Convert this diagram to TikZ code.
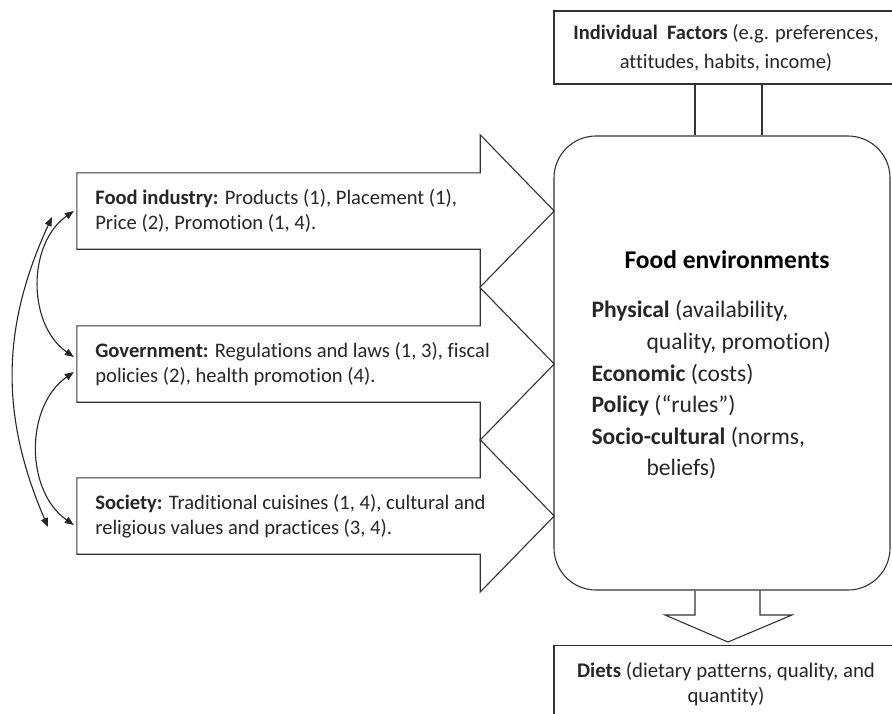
\documentclass[tikz,border=0pt]{standalone}
\usepackage{fontspec}
\setmainfont{Carlito}[Ligatures=NoCommon]
\usetikzlibrary{arrows.meta,calc}

\begin{document}
\begin{tikzpicture}[x=1pt,y=1pt,>={Triangle[length=9pt,width=7pt]},
    outline/.style={draw=black!80,line width=1.1pt},
    shaft/.style={minimum width=403,minimum height=76,inner sep=0},
    sidetext/.style={anchor=west,align=left,text=black!85,font=\fontsize{20.6}{25}\selectfont},
    boxtext/.style={align=center,text=black!85,font=\fontsize{20.6}{27}\selectfont},
    link/.style={<->,draw=black!85,line width=1.1pt}]
  \useasboundingbox (0,0) rectangle (892,-713);
  \clip (0,0) rectangle (892,-713);

  % right column
  \node[outline,minimum width=344,minimum height=73,inner sep=0] (indiv) at (726,-47.5) {};
  \node[boxtext,font=\fontsize{20.5}{29}\selectfont] (indivtxt) at (726,-47.5) {\textbf{Individual\ \ Factors} (e.g. preferences,\\attitudes, habits, income)};
  \node[outline,rounded corners=42pt,minimum width=336,minimum height=454,inner sep=0] (env) at (722,-363) {};
  \node[text=black,font=\bfseries\fontsize{25.5}{28}\selectfont] (envtitle) at (727,-260) {Food environments};
  \node[anchor=west,align=left,text=black!85,font=\fontsize{23.6}{31.6}\selectfont] (envlist) at (588,-390) {%
    \textbf{Physical} (availability,\\
    \hspace*{55pt}quality, promotion)\\
    \textbf{Economic} (costs)\\
    \textbf{Policy} (“rules”)\\
    \textbf{Socio-cultural} (norms,\\
    \hspace*{55pt}beliefs)};
  \node[outline,minimum width=344,minimum height=90,inner sep=0,anchor=north] (diets) at (726,-645) {};
  \node[boxtext,font=\fontsize{20.8}{25}\selectfont] (dietstxt) at (726,-684.5) {\textbf{Diets} (dietary patterns, quality, and\\quantity)};

  \draw[outline] (695,0 |- indiv.south) -- (695,0 |- env.north);
  \draw[outline] (762,0 |- indiv.south) -- (762,0 |- env.north);
  \draw[outline] (695,0 |- env.south) -- (695,-615) -- (665,-615) -- (728,-642) -- (792,-615) -- (760,-615) -- (760,0 |- env.south);

  % block arrows on the left
  \node[shaft] (food) at (278.5,-211) {};
  \node[shaft] (gov) at (278.5,-364) {};
  \node[shaft] (soc) at (278.5,-516) {};
  \draw[outline] (food.north west) -- (food.north east) -- ++(0,38) -- ($(food.east)+(74,0)$) -- ++(-74,-76) -- (food.south east) -- (food.south west) -- cycle;
  \draw[outline] (gov.north west) -- (gov.north east) -- ++(0,38) -- ($(gov.east)+(74,0)$) -- ++(-74,-76) -- (gov.south east) -- (gov.south west) -- cycle;
  \draw[outline] (soc.north west) -- (soc.north east) -- ++(0,38) -- ($(soc.east)+(74,0)$) -- ++(-74,-76) -- (soc.south east) -- (soc.south west) -- cycle;
  \node[sidetext] (foodtxt) at ([xshift=15]food.west) {\textbf{Food industry:} Products (1), Placement (1),\\Price (2), Promotion (1, 4).};
  \node[sidetext] (govtxt) at ([xshift=15]gov.west) {\textbf{Government:} Regulations and laws (1, 3), fiscal\\policies (2), health promotion (4).};
  \node[sidetext] (soctxt) at ([xshift=15]soc.west) {\textbf{Society:} Traditional cuisines (1, 4), cultural and\\religious values and practices (3, 4).};

  % links between the actors
  \coordinate (outtop) at (52,-217);
  \coordinate (outbot) at (48,-527);
  \draw[link] (outtop) to[bend right=24] (outbot);
  \draw[link] ([xshift=-3]food.west) to[bend right=55] ([xshift=-3,yshift=7]gov.west);
  \draw[link] ([xshift=-3,yshift=-8]gov.west) to[bend right=55] ([xshift=-3,yshift=-9]soc.west);
\end{tikzpicture}
\end{document}
